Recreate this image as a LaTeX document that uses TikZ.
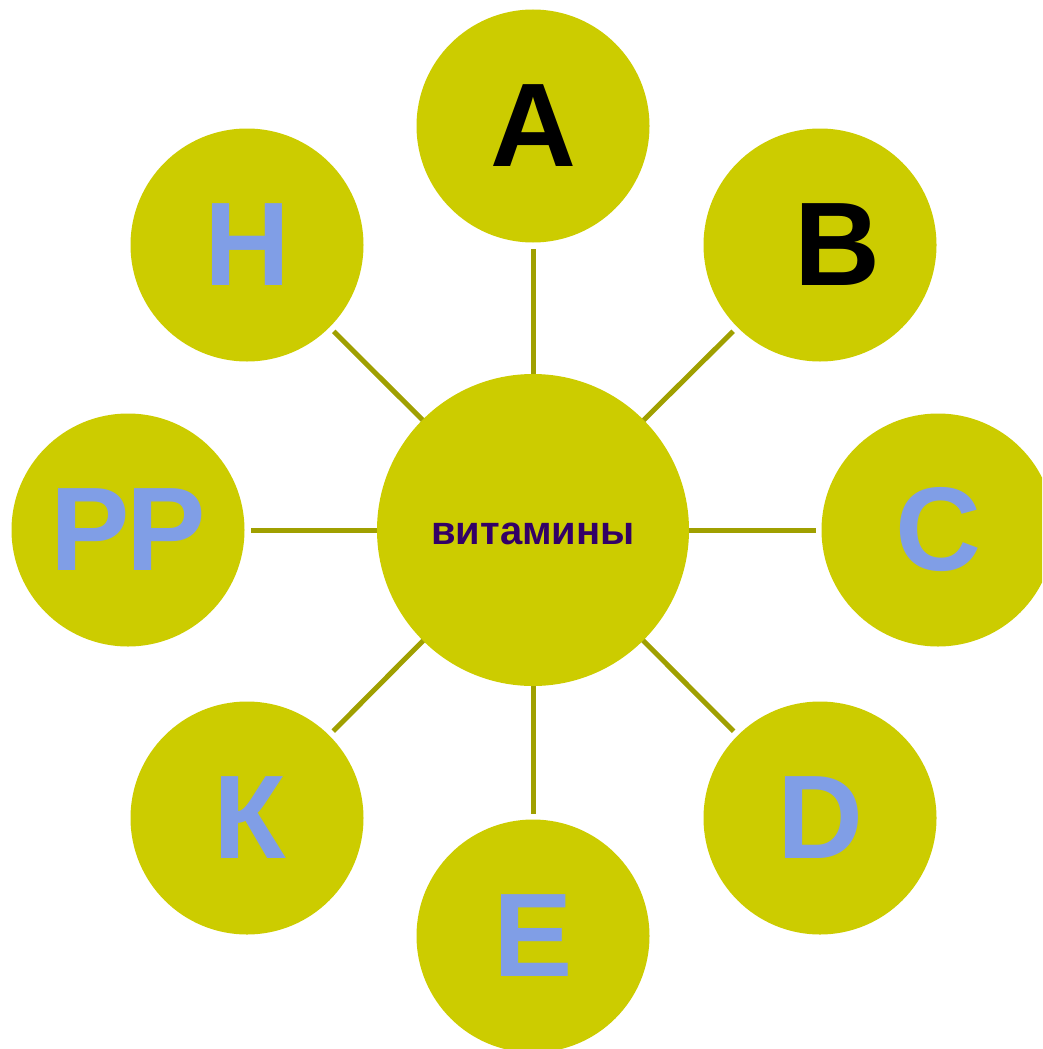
\documentclass[tikz,border=0pt]{standalone}
\usepackage{fontspec}
\setmainfont{Liberation Sans}
\definecolor{vitfill}{RGB}{204,204,0}
\definecolor{vitline}{RGB}{160,160,0}
\definecolor{vitblue}{RGB}{128,158,230}
\definecolor{vitpurple}{RGB}{51,0,102}
\tikzset{
  ball/.style={circle,fill=vitfill,minimum size=233pt,inner sep=0pt,outer sep=0pt,
    font=\fontsize{119}{119}\selectfont\bfseries,text=vitblue},
  hub/.style={circle,fill=vitfill,minimum size=312pt,inner sep=0pt,outer sep=0pt,
    font=\fontsize{40}{40}\selectfont\bfseries,text=vitpurple},
  spoke/.style={draw=vitline,line width=5pt,shorten >=6pt}
}
\begin{document}
\begin{tikzpicture}[x=1pt,y=-1pt]
\useasboundingbox (0,0) rectangle (1042,1049);
\begin{scope}
\clip (0,0) rectangle (1042,1049);
\node[hub] (vit) at (533,530) {\raisebox{-14pt}[0pt][0pt]{витамины}};
\node[ball,text=black] (A) at (533,126) {A};
\node[ball,text=black] (B) at (820,245) {\hspace*{34pt}B};
\node[ball] (C) at (938,530) {C};
\node[ball] (D) at (820,818) {D};
\node[ball] (E) at (533,936) {E};
\node[ball] (K) at (247,818) {\hspace*{6pt}К};
\node[ball] (PP) at (128,530) {P\kern-4pt P};
\node[ball] (H) at (247,245) {H};
\foreach \v in {A,B,C,D,E,K,PP,H}
  \draw[spoke] (vit) -- (\v);
\end{scope}
\end{tikzpicture}
\end{document}
